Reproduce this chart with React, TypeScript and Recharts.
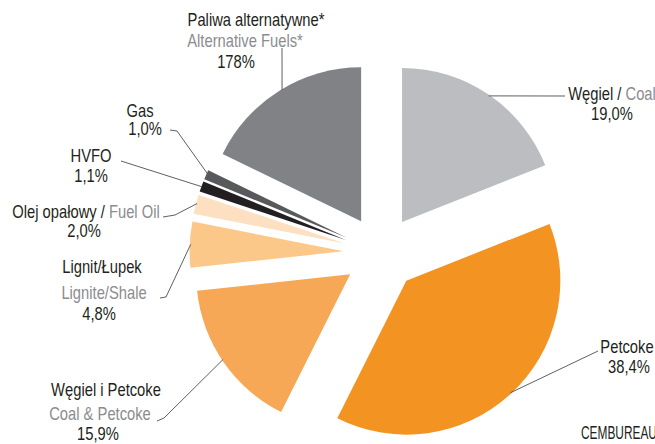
import { PieChart, Pie, Cell } from 'recharts'

// fuel mix, clockwise from 12 o'clock
const plNames = ['Węgiel', 'Petcoke', 'Węgiel i Petcoke', 'Lignit/Łupek', 'Olej opałowy', 'HVFO', 'Gas', 'Paliwa alternatywne*']
const enNames = ['Coal', '', 'Coal & Petcoke', 'Lignite/Shale', 'Fuel Oil', '', '', 'Alternative Fuels*']
const shares = [19.0, 38.4, 15.9, 4.8, 2.0, 1.1, 1.0, 17.8]
const shareLabels = ['19,0%', '38,4%', '15,9%', '4,8%', '2,0%', '1,1%', '1,0%', '178%']
const colors = ['#bcbdc0', '#f39322', '#f7a857', '#fcc88a', '#fddfc1', '#231f20', '#58595b', '#808285']
const source = 'CEMBUREAU'

// no condensed face installed, so squeeze a regular one
const FONT = "'Liberation Sans', Arial, sans-serif"
const SQUEEZE = 0.82
const DARK = '#231f20'
const GREY = '#8b8c8f'
const RAD = Math.PI / 180

const W = 655
const H = 444
const CX = 381
const CY = 253
const R = 154
const EXPLODE = 37.5

// label placement: baselines per text line, angle where the leader meets the slice, elbow points
const labelLayout = [
  { inline: true, lines: [[612, 100], [612, 120]], angle: 55.5, path: [[565, 96]] },
  { inline: false, lines: [[627, 353], [629, 373]], angle: -47.1, path: [[598, 351]] },
  { inline: false, lines: [[106, 396], [100, 420], [98, 440]], angle: 213.8, path: [[164, 418], [157, 421]] },
  { inline: false, lines: [[102, 273], [104, 299], [99, 320]], angle: 177.4, path: [[166, 297], [160, 298]] },
  { inline: true, lines: [[86, 218], [84, 237]], angle: 164.9, path: [[175, 215], [163, 217]] },
  { inline: false, lines: [[91, 162], [91, 182]], angle: 159.7, path: [[121, 161]] },
  { inline: false, lines: [[140, 117], [145, 135]], angle: 155.4, path: [[177, 131], [170, 130]] },
  { inline: false, lines: [[256, 26], [245, 47], [236, 68]], angle: 121.1, path: [[282, 48]] },
]

const data = shares.map((value, i) => ({ name: plNames[i], value }))
const total = shares.reduce((a, b) => a + b, 0)

// centre of each exploded slice, pushed out along its bisector
const offsets = shares.map((v, i) => {
  const before = shares.slice(0, i).reduce((a, b) => a + b, 0)
  const mid = ((before + v / 2) / total) * 360
  return { cx: CX + Math.sin(mid * RAD) * EXPLODE, cy: CY - Math.cos(mid * RAD) * EXPLODE }
})

function Narrow({ x, y, anchor = 'middle', squeeze = SQUEEZE, children }: { x: number; y: number; anchor?: string; squeeze?: number; children: any }) {
  return (
    <text
      transform={`translate(${x},${y}) scale(${squeeze},1)`}
      textAnchor={anchor}
      fontFamily={FONT}
      fontSize={18}
      fill={DARK}
    >
      {children}
    </text>
  )
}

function SliceLabel({ i, cx, cy, outerRadius }: { i: number; cx: number; cy: number; outerRadius: number }) {
  const lay = labelLayout[i]
  const r = outerRadius - 1
  const start = [cx + r * Math.cos(lay.angle * RAD), cy - r * Math.sin(lay.angle * RAD)]
  const pts = [start, ...lay.path].map((p) => p.join(',')).join(' ')

  const rows: [string, string][][] = []
  if (lay.inline) {
    rows.push([[plNames[i] + ' / ', DARK], [enNames[i], GREY]])
  } else {
    rows.push([[plNames[i], DARK]])
    if (enNames[i]) rows.push([[enNames[i], GREY]])
  }
  rows.push([[shareLabels[i], DARK]])

  return (
    <g>
      <polyline points={pts} fill="none" stroke="#4d4d4f" strokeWidth={0.9} />
      {rows.map((row, k) => (
        <Narrow key={k} x={lay.lines[k][0]} y={lay.lines[k][1]}>
          {row.map(([t, c], j) => (
            <tspan key={j} fill={c}>
              {t}
            </tspan>
          ))}
        </Narrow>
      ))}
    </g>
  )
}

export default function App() {
  return (
    <div style={{ position: 'absolute', left: 0, top: 0, width: W, height: H, background: '#fff' }}>
      <PieChart width={W} height={H} margin={{ top: 0, right: 0, bottom: 0, left: 0 }}>
        {data.map((_, i) => (
          <Pie
            key={i}
            data={data}
            dataKey="value"
            nameKey="name"
            cx={offsets[i].cx}
            cy={offsets[i].cy}
            innerRadius={0}
            outerRadius={R}
            startAngle={90}
            endAngle={-270}
            stroke="none"
            isAnimationActive={false}
            labelLine={false}
            label={(p: any) =>
              p.index === i ? <SliceLabel i={i} cx={p.cx} cy={p.cy} outerRadius={p.outerRadius} /> : null
            }
          >
            {data.map((_, j) => (
              <Cell key={j} fill={j === i ? colors[j] : 'none'} stroke="none" />
            ))}
          </Pie>
        ))}
        <Narrow x={581} y={439} anchor="start" squeeze={0.66}>
          {source}
        </Narrow>
      </PieChart>
    </div>
  )
}
